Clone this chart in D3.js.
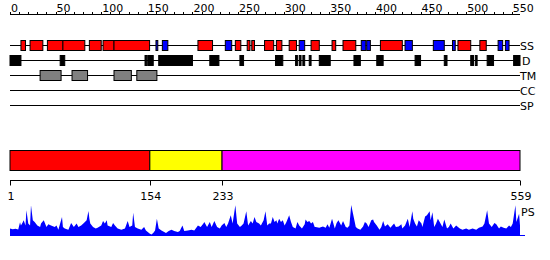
<!DOCTYPE html>
<html>
<head>
<meta charset="utf-8">
<script src="https://cdn.jsdelivr.net/npm/d3@7"></script>
<style>
  body { margin: 0; background: #fff; }
  svg { display: block; font-family: "DejaVu Sans", sans-serif; font-size: 11px; }
</style>
</head>
<body>
<div class="container"></div>
<script>
const seqLength = 559;

// secondary structure: helices (red) and strands (blue)
const helices = [[12,17],[22,36],[41,58],[58,82],[87,100],[102,114],[114,153],[206,222],[247,253],[260,263],
  [265,268],[279,289],[292,298],[306,314],[330,339],[353,357],[365,379],[406,430],[491,505],[515,522]];
const strands = [[160,162],[167,173],[236,243],[317,323],[385,390],[391,395],[433,441],[464,476],[485,488],[535,540],[543,547]];
// disorder
const disorder = [[0,12],[55,60],[148,150],[151,157],[163,200],[219,229],[252,256],[291,299],[313,315],[317,319],
  [321,323],[328,330],[339,351],[377,384],[402,409],[444,450],[476,479],[505,508],[510,512],[523,530],[552,559]];
// transmembrane (grey)
const transmembrane = [[33,56],[68,85],[114,133],[139,161]];
const coiledCoil = [];
const signalPeptide = [];

const trackNames = ["SS", "D", "TM", "CC", "SP"];

const domainStarts = [1, 154, 233];
const domainEnds = [154, 233, 559];
const domainColors = ["#ff0000", "#ffff00", "#ff00ff"];
const domainTicks = [1, 154, 233, 559];

// PS profile: [residue, value]
const psResidues = [0,3,6,9,11,12,14,15,17,18,20,22,23,25,27,30,33,34,37,40,42,45,49,51,53,57,58,60,64,67,70,73,75,78,81,84,86,87,88,91,94,96,
  100,102,104,106,107,111,113,115,118,122,126,129,131,134,135,137,140,144,147,149,151,153,155,157,159,161,163,166,169,171,174,177,180,184,186,189,191,195,199,
  202,206,209,212,213,216,219,221,224,227,230,232,235,237,239,242,244,247,249,252,254,256,259,261,264,266,268,270,273,275,278,280,282,284,286,288,290,292,293,295,297,299,
  301,303,306,308,310,313,315,317,320,323,324,326,328,330,332,334,335,339,343,346,348,350,353,356,358,360,363,365,368,370,372,374,376,379,381,384,387,389,391,393,396,398,399,
  402,405,407,409,411,414,417,419,421,423,426,429,430,433,436,438,441,442,444,446,448,451,452,455,457,460,461,463,465,467,469,471,474,476,479,481,483,486,489,493,496,
  500,503,507,511,514,518,520,523,525,528,531,533,536,538,541,544,547,549,551,554,555,558,559];
const psValues = [.24,.22,.23,.21,.44,.34,.44,.51,.34,.83,.40,.34,.99,.51,.45,.34,.29,.40,.51,.29,.38,.34,.29,.34,.20,.61,.29,.24,.20,.42,.29,.40,.29,.34,.42,.51,.81,.56,.40,.29,.24,.27,
  .34,.48,.40,.51,.34,.29,.42,.34,.24,.20,.24,.48,.29,.34,.75,.29,.24,.20,.29,.18,.13,.08,.05,.10,.18,.56,.24,.18,.13,.10,.16,.20,.16,.13,.16,.34,.16,.18,.20,
  .18,.34,.29,.40,.45,.29,.45,.29,.48,.29,.24,.34,.42,.29,.40,.67,.40,.99,.40,.29,.34,.40,.80,.34,.48,.40,.61,.45,.40,.34,.51,.80,.34,.40,.40,.61,.45,.51,.40,.56,.45,.51,
  .34,.45,.67,.45,.29,.24,.45,.34,.24,.38,.53,.45,.48,.40,.45,.29,.29,.27,.31,.27,.38,.27,.56,.24,.42,.51,.34,.48,.29,.27,.34,1.0,.72,.29,.24,.20,.31,.45,.40,.29,.51,.53,.45,
  .34,.20,.29,.48,.31,.38,.27,.34,.40,.29,.31,.38,.24,.34,.56,.29,.80,.56,.40,.31,.51,.40,.29,.63,.67,.80,.51,.77,.29,.40,.56,.45,.29,.53,.24,.29,.40,.24,.34,.24,.20,
  .24,.20,.24,.20,.27,.31,.40,.83,.40,.29,.42,.38,.24,.31,.27,.24,.34,.29,.40,.99,.45,.72,.34];

const width = 550;
const height = 260;

const svg = d3.select(".container").append("svg").attr("width", width).attr("height", height);

const x = d3.scaleLinear().domain([0, seqLength]).range([10, 520]);
const xd = d3.scaleLinear().domain([1, seqLength]).range([10, 520]);

// top ruler
const ruler = svg.append("g").attr("class", "ruler");
ruler.append("line").attr("x1", x(0)).attr("x2", x(seqLength)).attr("y1", 14.5).attr("y2", 14.5).attr("stroke", "#000");
ruler.selectAll("line.tick").data(d3.range(0, seqLength, 10)).enter().append("line")
  .attr("class", "tick")
  .attr("x1", d => Math.round(x(d)) + 0.5).attr("x2", d => Math.round(x(d)) + 0.5)
  .attr("y1", 12).attr("y2", 14.5).attr("stroke", "#000");
ruler.selectAll("text").data(d3.range(0, seqLength, 50)).enter().append("text")
  .attr("x", d => x(d) + 1).attr("y", 11.5).text(d => d);

// tracks
const trackY = d3.scalePoint().domain(trackNames).range([45.5, 105.5]);
const tracks = svg.append("g").attr("class", "tracks");
tracks.selectAll("line").data(trackNames).enter().append("line")
  .attr("x1", x(0)).attr("x2", x(seqLength))
  .attr("y1", d => trackY(d)).attr("y2", d => trackY(d)).attr("stroke", "#000");
tracks.selectAll("text").data(trackNames).enter().append("text")
  .attr("x", d => d === "D" ? 522 : 520).attr("y", d => trackY(d) + 4).text(d => d);

const drawBoxes = (data, track, color) => {
  tracks.append("g").selectAll("rect").data(data).enter().append("rect")
    .attr("x", d => x(d[0])).attr("width", d => x(d[1]) - x(d[0]))
    .attr("y", trackY(track) - 5).attr("height", 10)
    .attr("fill", color).attr("stroke", "#000");
};
drawBoxes(helices, "SS", "#ff0000");
drawBoxes(strands, "SS", "#0000ff");
drawBoxes(disorder, "D", "#000");
drawBoxes(transmembrane, "TM", "#808080");
drawBoxes(coiledCoil, "CC", "#00aa00");
drawBoxes(signalPeptide, "SP", "#00aaaa");

// domain bar
svg.append("g").selectAll("rect").data(domainStarts).enter().append("rect")
  .attr("x", d => xd(d)).attr("width", (d, i) => xd(domainEnds[i]) - xd(d))
  .attr("y", 150.5).attr("height", 20)
  .attr("fill", (d, i) => domainColors[i]).attr("stroke", "#000");

const bottomAxis = svg.append("g").attr("transform", "translate(0,180.5)");
bottomAxis.append("line").attr("x1", xd(1)).attr("x2", xd(seqLength)).attr("stroke", "#000");
bottomAxis.selectAll("line.tick").data(domainTicks).enter().append("line")
  .attr("class", "tick")
  .attr("x1", d => Math.round(xd(d)) + 0.5).attr("x2", d => Math.round(xd(d)) + 0.5)
  .attr("y1", 0).attr("y2", 5).attr("stroke", "#000");
bottomAxis.selectAll("text").data(domainTicks).enter().append("text")
  .attr("x", d => xd(d) + 1).attr("y", 19.5).attr("text-anchor", "middle").text(d => d);

// PS profile
const y = d3.scaleLinear().domain([0, 1]).range([236, 205]);
const area = d3.area().x(d => x(d)).y0(y(0)).y1((d, i) => y(psValues[i]));
svg.append("path").datum(psResidues).attr("d", area).attr("fill", "#0000ff");
svg.append("line").attr("x1", x(0)).attr("x2", 525).attr("y1", 235.5).attr("y2", 235.5).attr("stroke", "#0000ff");
svg.append("text").attr("x", 521).attr("y", 215.5).text("PS");
</script>
</body>
</html>
